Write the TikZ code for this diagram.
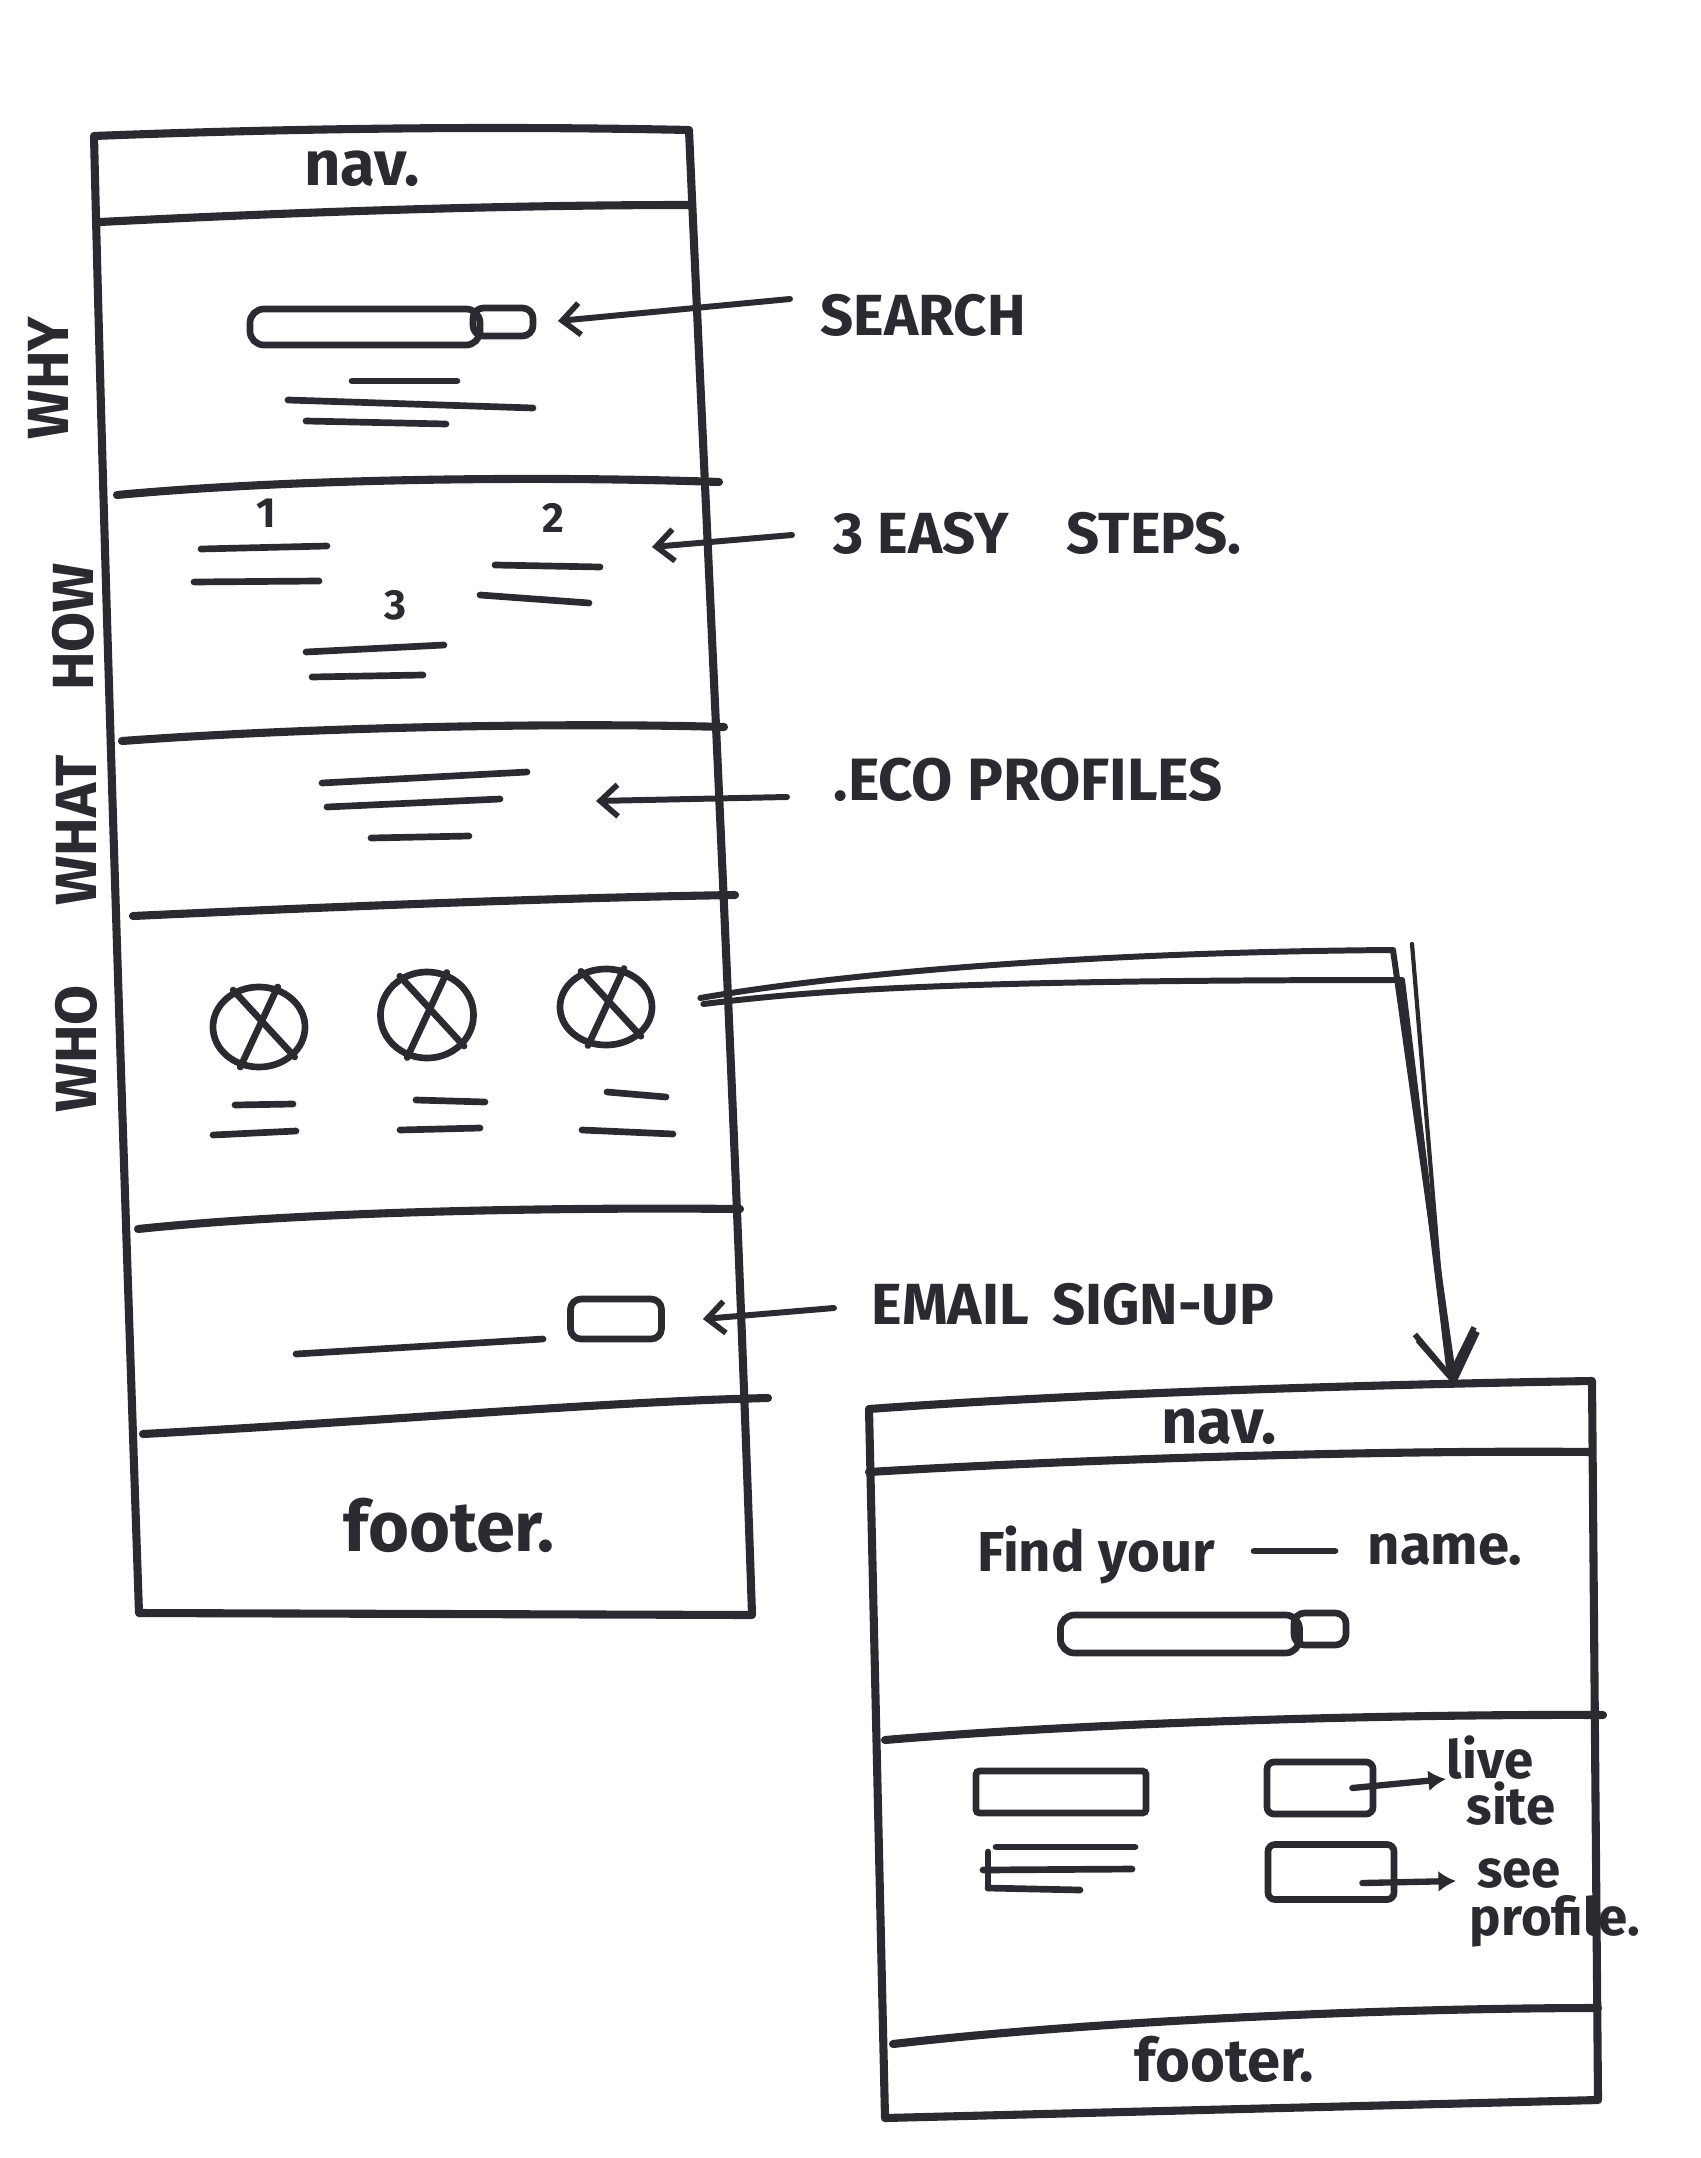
\documentclass[tikz,border=0pt]{standalone}
\usepackage{fontspec}
\setmainfont{Fira Sans}
\usetikzlibrary{arrows.meta,calc,shapes.geometric}
\definecolor{ink}{HTML}{2B2A30}
\begin{document}
\begin{tikzpicture}[x=0.01cm,y=-0.01cm,
  frame/.style={draw=ink,line width=2.3pt,line cap=round,line join=round},
  txtline/.style={draw=ink,line width=1.9pt,line cap=round},
  thinstroke/.style={draw=ink,line width=1.2pt,line cap=round},
  ptr/.style={draw=ink,line width=1.7pt,line cap=round,-{Straight Barb[length=5pt,width=9pt,line width=1.6pt]}},
  bigptr/.style={draw=ink,line width=1.7pt,line cap=round,line join=round,-{Straight Barb[length=13pt,width=17pt,line width=1.6pt]}},
  smallptr/.style={draw=ink,line width=1.8pt,line cap=round,-{Latex[length=5pt,width=6pt]}},
  caps/.style={text=ink,font=\bfseries\fontsize{16.5}{18}\selectfont,inner sep=0pt},
  hand/.style={text=ink,font=\bfseries\fontsize{18}{20}\selectfont,inner sep=0pt},
  small/.style={text=ink,font=\bfseries\fontsize{15}{17}\selectfont,inner sep=0pt},
  num/.style={text=ink,font=\bfseries\fontsize{12}{14}\selectfont,inner sep=0pt},
  side/.style={caps,rotate=90},
  box/.style={draw=ink,line width=1.9pt,rounded corners=4pt,inner sep=0pt},
  face/.style={draw=ink,line width=1.9pt,ellipse,inner sep=0pt}
]
\useasboundingbox (0,0) rectangle (1700,2158);
\fill[white] (0,0) rectangle (1700,2158);

% ---------- main page ----------
\coordinate (m1) at (94,136);
\coordinate (m2) at (689,130);
\coordinate (m3) at (752,1615);
\coordinate (m4) at (139,1613);
\draw[frame] (m1) .. controls (300,128) and (500,126) .. (m2)
  .. controls (705,500) and (735,1100) .. (m3) -- (m4)
  .. controls (125,1200) and (105,600) .. cycle;
\draw[frame] (100,222) .. controls (300,212) and (500,205) .. (691,205);
\draw[frame] (117,495) .. controls (300,478) and (550,476) .. (719,482);
\draw[frame] (122,741) .. controls (300,728) and (550,722) .. (724,727);
\draw[frame] (133,916) .. controls (350,906) and (550,898) .. (735,895);
\draw[frame] (138,1229) .. controls (300,1212) and (550,1207) .. (740,1209);
\draw[frame] (143,1434) .. controls (400,1420) and (600,1402) .. (768,1398);

\node[hand] (nav1) at (362,169) {nav.};

% why
\node[box,minimum width=2.30cm,minimum height=0.36cm] (sbar) at (365,327) {};
\node[box,rounded corners=3pt,minimum width=0.60cm,minimum height=0.28cm] (sbtn) at (503,322) {};
\draw[txtline] (352,381) -- (457,381);
\draw[txtline] (288,400) -- (533,408);
\draw[txtline] (306,421) -- (446,424);

% how
\node[num] (n1) at (266,513) {1};
\draw[txtline] (201,549) -- (327,546);
\draw[txtline] (194,582) -- (319,581);
\node[num] (n2) at (553,518) {2};
\draw[txtline] (495,565) -- (600,567);
\draw[txtline] (480,595) -- (589,603);
\node[num] (n3) at (395,605) {3};
\draw[txtline] (306,652) -- (444,645);
\draw[txtline] (312,677) -- (423,675);

% what
\draw[txtline] (322,783) -- (527,772);
\draw[txtline] (327,807) -- (500,799);
\draw[txtline] (371,838) -- (469,836);

% who
\node[face,minimum width=0.92cm,minimum height=0.80cm] (c1) at (259,1027) {};
\draw[txtline] (c1.125) -- (c1.-40);
\draw[txtline] (c1.65) -- (c1.-115);
\node[face,minimum width=0.93cm,minimum height=0.86cm] (c2) at (427,1015) {};
\draw[txtline] (c2.125) -- (c2.-40);
\draw[txtline] (c2.65) -- (c2.-115);
\node[face,minimum width=0.92cm,minimum height=0.76cm] (c3) at (606,1007) {};
\draw[txtline] (c3.125) -- (c3.-40);
\draw[txtline] (c3.65) -- (c3.-115);
\draw[txtline] (235,1105) -- (293,1104);
\draw[txtline] (213,1135) -- (296,1131);
\draw[txtline] (416,1100) -- (485,1102);
\draw[txtline] (400,1130) -- (480,1128);
\draw[txtline] (607,1092) -- (666,1097);
\draw[txtline] (582,1130) -- (673,1134);

% email
\draw[txtline] (296,1354) -- (543,1339);
\node[box,rounded corners=3pt,minimum width=0.91cm,minimum height=0.40cm] (ebtn) at (616,1319) {};

\node[hand,font=\bfseries\fontsize{20}{22}\selectfont] (foot1) at (449,1525) {footer.};

% side labels
\node[side] (why) at (48,378) {WHY};
\node[side] (how) at (73,627) {HOW};
\node[side] (what) at (76,830) {WHAT};
\node[side] (who) at (76,1049) {WHO};

% annotations
\node[caps,anchor=west] (lsearch) at (820,315) {SEARCH};
\coordinate (tsearch) at (558,321);
\draw[ptr] ([shift={(-30,-16)}]lsearch.west) -- (tsearch);

\node[caps,anchor=west] (lsteps) at (833,533) {3 EASY\quad STEPS.};
\coordinate (tsteps) at (652,547);
\draw[ptr] ([shift={(-41,2)}]lsteps.west) -- (tsteps);

\node[caps,anchor=west,font=\bfseries\fontsize{17}{19}\selectfont] (leco) at (833,780) {.ECO PROFILES};
\coordinate (teco) at (596,801);
\draw[ptr] ([shift={(-46,17)}]leco.west) -- (teco);

\node[caps,anchor=west] (lemail) at (871,1304) {EMAIL\, SIGN-UP};
\draw[ptr] ([shift={(-37,4)}]lemail.west) -- ([xshift=0.38cm]ebtn.east);

% ---------- detail page ----------
\coordinate (b1) at (869,1409);
\coordinate (b2) at (1592,1381);
\coordinate (b3) at (1598,2100);
\coordinate (b4) at (885,2118);
\draw[frame] (b1) .. controls (1100,1392) and (1400,1384) .. (b2) -- (b3) -- (b4) -- cycle;
\draw[frame] (869,1472) .. controls (1100,1458) and (1400,1450) .. (1592,1452);
\draw[frame] (885,1740) .. controls (1100,1722) and (1400,1714) .. (1603,1715);
\draw[frame] (893,2044) .. controls (1100,2020) and (1400,2008) .. (1598,2008);

\node[hand] (nav2) at (1219,1427) {nav.};
\node[hand,font=\bfseries\fontsize{17}{19}\selectfont] (foot2) at (1224,2059) {footer.};

\node[hand,font=\bfseries\fontsize{16}{18}\selectfont] (find) at (1096,1555) {Find your};
\node[hand,font=\bfseries\fontsize{16}{18}\selectfont] (name) at (1445,1550) {name.};
\draw[txtline] (1254,1551) -- (1335,1551);

\node[box,minimum width=2.39cm,minimum height=0.38cm] (sbar2) at (1180,1634) {};
\node[box,rounded corners=3pt,minimum width=0.52cm,minimum height=0.32cm] (sbtn2) at (1320,1629) {};

\node[box,rounded corners=1pt,minimum width=1.70cm,minimum height=0.42cm] (ra) at (1061,1792) {};
\draw[txtline] (996,1847) -- (1135,1847);
\draw[txtline] (983,1870) -- (1132,1869);
\draw[txtline] (988,1888) -- (1080,1890);
\draw[txtline] (988,1852) -- (988,1888);

\node[box,rounded corners=2pt,minimum width=1.06cm,minimum height=0.52cm] (rc) at (1320,1788) {};
\node[box,rounded corners=2pt,minimum width=1.26cm,minimum height=0.55cm] (rd) at (1331,1872) {};

\node[small] (live) at (1490,1758) {live};
\node[small] (site) at (1511,1804) {site};
\node[small] (see) at (1519,1873) {see};
\node[small] (prof) at (1555,1921) {profile.};
\coordinate (tlive) at (1446,1779);
\coordinate (tsee) at (1456,1881);
\draw[smallptr] ([xshift=-0.24cm]rc.east) -- (tlive);
\draw[smallptr] ([xshift=-0.35cm,yshift=-0.11cm]rd.east) -- (tsee);

% ---------- big connector ----------
\coordinate (wstart) at ($(c3.east)+(45,-9)$);
\coordinate (wstart2) at ($(c3.east)+(48,-3)$);
\coordinate (btop) at ($(b1)!0.81!(b2)$);
\draw[bigptr] (wstart) .. controls (850,972) and (1100,952) .. (1393,950) -- (btop);
\draw[bigptr] (wstart2) .. controls (820,990) and (950,980) .. (1402,980) -- ([xshift=-0.04cm,yshift=0.05cm]btop);
\draw[thinstroke] (1412,944) -- (1445,1340);
\end{tikzpicture}
\end{document}
